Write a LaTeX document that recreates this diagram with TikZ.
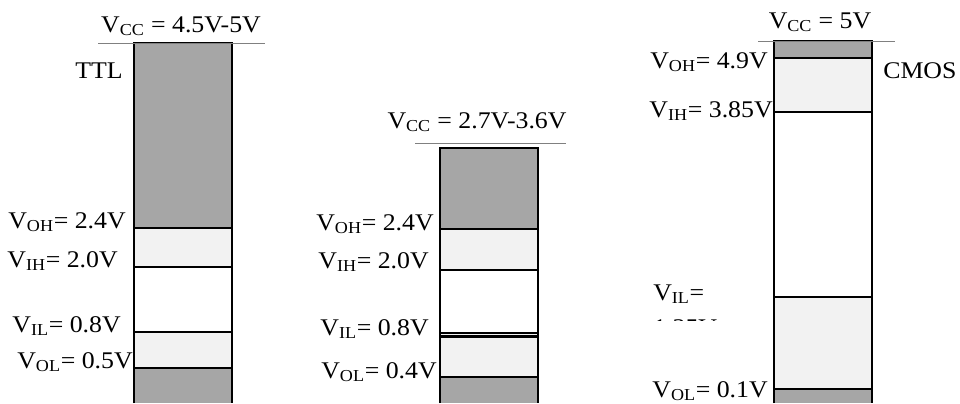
\documentclass[tikz,border=0pt]{standalone}
\usepackage{fontspec}
\setmainfont{Liberation Serif}[FakeStretch=1.08]
\definecolor{darkband}{HTML}{A6A6A6}
\definecolor{lightband}{HTML}{F2F2F2}
\begin{document}
\begin{tikzpicture}[
      x=0.025cm, y=-0.025cm,
      every node/.style={font=\fontsize{17}{20}\selectfont, inner sep=0pt},
      lvl/.style={anchor=base east},
      vcc/.style={anchor=base},
      rail/.style={draw=gray, line width=0.7pt},
      edge/.style={line width=1.8pt}
    ]
    \useasboundingbox (0,0) rectangle (960,403);

    % TTL, 4.5V-5V
    \foreach \ya/\yb/\c in {43/228/darkband, 228/267/lightband, 267/332/white, 332/368/lightband, 368/403/darkband}
      \fill[\c] (134,\ya) rectangle (232,\yb);
    \foreach \y in {228,267,332,368}
      \draw[edge] (134,\y) -- (232,\y);
    \draw[edge] (134,403) |- (232,43) -- (232,403);
    \draw[rail] (98,43) -- (265,43);
    \node[vcc] (ttl-vcc) at (181,32) {V\textsubscript{CC} = 4.5V-5V};
    \node[lvl] (ttl-name) at (123,78) {TTL};
    \node[lvl] (ttl-oh) at (126,228) {V\textsubscript{OH}= 2.4V};
    \node[lvl] (ttl-ih) at (118,267) {V\textsubscript{IH}= 2.0V};
    \node[lvl] (ttl-il) at (121,332) {V\textsubscript{IL}= 0.8V};
    \node[lvl] (ttl-ol) at (133,368) {V\textsubscript{OL}= 0.5V};

    % LV TTL, 2.7V-3.6V
    \foreach \ya/\yb/\c in {148/229/darkband, 229/270/lightband, 270/334/white, 334/377/lightband, 377/403/darkband}
      \fill[\c] (440,\ya) rectangle (538,\yb);
    \foreach \y in {229,270,333,336.5,377}
      \draw[edge] (440,\y) -- (538,\y);
    \draw[edge] (440,403) |- (538,148) -- (538,403);
    \draw[rail] (415,143) -- (566,143);
    \node[vcc] (lv-vcc) at (477,128) {V\textsubscript{CC} = 2.7V-3.6V};
    \node[lvl] (lv-oh) at (434,230) {V\textsubscript{OH}= 2.4V};
    \node[lvl] (lv-ih) at (429,268) {V\textsubscript{IH}= 2.0V};
    \node[lvl] (lv-il) at (429,335) {V\textsubscript{IL}= 0.8V};
    \node[lvl] (lv-ol) at (437,378) {V\textsubscript{OL}= 0.4V};

    % CMOS, 5V
    \foreach \ya/\yb/\c in {41/58/darkband, 58/112/lightband, 112/297/white, 297/389/lightband, 389/403/darkband}
      \fill[\c] (774,\ya) rectangle (872,\yb);
    \foreach \y in {58,112,297,389}
      \draw[edge] (774,\y) -- (872,\y);
    \draw[edge] (774,403) |- (872,41) -- (872,403);
    \draw[rail] (758,41) -- (895,41);
    \node[vcc] (cmos-vcc) at (820,28) {V\textsubscript{CC} = 5V};
    \node[anchor=base west] (cmos-name) at (883,78) {CMOS};
    \node[lvl] (cmos-oh) at (768,68) {V\textsubscript{OH}= 4.9V};
    \node[lvl] (cmos-ih) at (773,117) {V\textsubscript{IH}= 3.85V};
    \node[anchor=base west] (cmos-il) at (653,300) {V\textsubscript{IL}=};
    \begin{scope}
      \clip (600,300) rectangle (770,320);
      \node[anchor=base west] (cmos-il2) at (653,335) {1.35V};
    \end{scope}
    \node[lvl] (cmos-ol) at (768,397) {V\textsubscript{OL}= 0.1V};
\end{tikzpicture}
\end{document}
